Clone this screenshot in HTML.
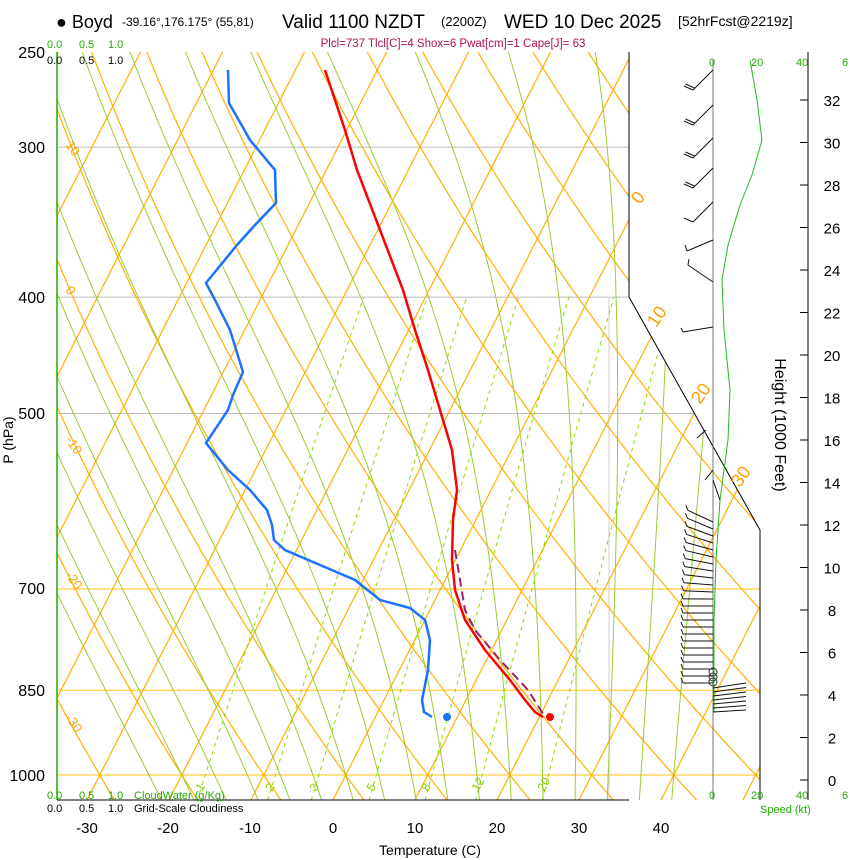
<!DOCTYPE html>
<html><head><meta charset="utf-8"><style>
body{margin:0;background:#fff;width:850px;height:860px;overflow:hidden}
svg{display:block;font-family:"Liberation Sans",sans-serif}
</style></head><body>
<svg id="s" width="850" height="860" xmlns="http://www.w3.org/2000/svg">
<defs><clipPath id="c"><polygon points="57,52 629,52 629,297 760,530 760,800 57,800"/></clipPath></defs>
<g id="grid" clip-path="url(#c)"></g>
<g id="fg"></g>
<text x="56" y="28" font-size="18">● Boyd</text>
<text x="122" y="26" font-size="12">-39.16°,176.175° (55,81)</text>
<text x="282" y="28" font-size="19">Valid 1100 NZDT</text>
<text x="441" y="26" font-size="13">(2200Z)</text>
<text x="504" y="28" font-size="19">WED 10 Dec 2025</text>
<text x="678" y="26" font-size="14">[52hrFcst@2219z]</text>
<text x="453" y="47" font-size="11.5" fill="#b0105a" text-anchor="middle">Plcl=737 Tlcl[C]=4 Shox=6 Pwat[cm]=1 Cape[J]= 63</text>
<g font-size="11" fill="#22aa00"><text x="47" y="48">0.0</text><text x="79" y="48">0.5</text><text x="108" y="48">1.0</text>
<text x="47" y="799">0.0</text><text x="79" y="799">0.5</text><text x="108" y="799">1.0</text><text x="134" y="799">CloudWater (g/Kg)</text>
<text x="709" y="66">0</text><text x="751" y="66">20</text><text x="796" y="66">40</text><text x="842" y="66">6</text>
<text x="709" y="799">0</text><text x="751" y="799">20</text><text x="796" y="799">40</text><text x="842" y="799">6</text>
<text x="760" y="813">Speed (kt)</text></g>
<g font-size="11"><text x="47" y="64">0.0</text><text x="79" y="64">0.5</text><text x="108" y="64">1.0</text>
<text x="47" y="812">0.0</text><text x="79" y="812">0.5</text><text x="108" y="812">1.0</text><text x="134" y="812">Grid-Scale Cloudiness</text></g>
<g font-size="16" text-anchor="end"><text x="45" y="58">250</text><text x="45" y="153">300</text><text x="45" y="303">400</text><text x="45" y="419">500</text><text x="45" y="594">700</text><text x="45" y="696">850</text><text x="45" y="781">1000</text></g>
<text transform="translate(13,440) rotate(-90)" font-size="14" text-anchor="middle">P (hPa)</text>
<text transform="translate(775,425) rotate(90)" font-size="16" text-anchor="middle">Height (1000 Feet)</text>
<g font-size="15" text-anchor="middle"><text x="87" y="833">-30</text><text x="168" y="833">-20</text><text x="250" y="833">-10</text><text x="333" y="833">0</text><text x="415" y="833">10</text><text x="497" y="833">20</text><text x="579" y="833">30</text><text x="661" y="833">40</text></g>
<text x="430" y="855" font-size="14" text-anchor="middle">Temperature (C)</text>
</svg>
<script>
const NS="http://www.w3.org/2000/svg";
const grid=document.getElementById('grid'),fg=document.getElementById('fg');
function el(p,tag,a,txt){const e=document.createElementNS(NS,tag);for(const k in a)e.setAttribute(k,a[k]);if(txt!==undefined)e.textContent=txt;p.appendChild(e);return e;}
const Y=p=>775-521.5*Math.log(1000/p);
const X=(T,p)=>333+8.2*T+(800-Y(p))*0.51;
function pl(pts,a,par){el(par||grid,'polyline',Object.assign({points:pts.map(q=>q[0].toFixed(1)+','+q[1].toFixed(1)).join(' '),fill:'none'},a));}
[300,400,500].forEach(p=>el(grid,'line',{x1:57,x2:760,y1:Y(p),y2:Y(p),stroke:'#bbb','stroke-width':1}));
[700,850,1000].forEach(p=>el(grid,'line',{x1:57,x2:760,y1:Y(p),y2:Y(p),stroke:'#ffcc44','stroke-width':1.2}));
el(grid,'line',{x1:609,x2:609,y1:297,y2:800,stroke:'#ccc','stroke-width':1});
const OR='#ffb000';
for(let T=-120;T<=60;T+=10){pl([[X(T,1050),Y(1050)],[X(T,250),Y(250)]],{stroke:OR,'stroke-width':1.2});}
for(let th=-40;th<=200;th+=10){const pts=[];for(let p=1050;p>=240;p-=10){const T=(th+273.15)*Math.pow(p/1000,0.286)-273.15;pts.push([X(T,p),Y(p)]);}pl(pts,{stroke:OR,'stroke-width':1.2});}
function es(T){return 6.112*Math.exp(17.67*T/(T+243.5));}
for(let tw=-24;tw<=40;tw+=4){let T,p;const seg=[];
 for(let dir of [1,-1]){T=tw+273.15;p=1000;const arr=[];
  while(dir==1?p>=240:p<=1050){const rs=0.622*es(T-273.15)/(p-es(T-273.15));const L=2.5e6;
   const dTdp=(287*T+L*rs)/(p*(1004+L*L*rs*0.622/(287*T*T)));arr.push([X(T-273.15,p),Y(p)]);
   const dp=dir==1?-5:5;T+=dTdp*dp;p+=dp;}
  if(dir==1)seg.push(...arr.reverse());else seg.push(...arr.slice(1));}
 pl(seg,{stroke:'#99cc33','stroke-width':1});}
[1,2,3,5,8,12,20].forEach(w=>{const pts=[];for(let p=1050;p>=400;p-=10){const e=w*p/(622+w);const l=Math.log(e/6.112);const T=243.5*l/(17.67-l);pts.push([X(T,p),Y(p)]);}
 pl(pts,{stroke:'#88dd00','stroke-width':1,'stroke-dasharray':'4,4'});});
el(fg,'polyline',{points:'629,52 629,297 760,530 760,800',fill:'none',stroke:'#000','stroke-width':1});
el(fg,'line',{x1:57,x2:57,y1:52,y2:800,stroke:'#22aa00','stroke-width':1.5});
el(fg,'line',{x1:57,x2:629,y1:800,y2:800,stroke:'#000','stroke-width':1});
const lo=[["10",65,145],["0",65,290],["-10",65,440],["-20",65,575],["-30",65,718]];
lo.forEach(a=>el(fg,'text',{x:a[1],y:a[2],'font-size':13,fill:'#ffa000',transform:`rotate(55 ${a[1]} ${a[2]})`},a[0]));
[["0",640,205],["10",656,328],["20",700,405],["30",740,488]].forEach(a=>el(fg,'text',{x:a[1],y:a[2],'font-size':18,fill:'#ffa000',transform:`rotate(-55 ${a[1]} ${a[2]})`},a[0]));
[["1",202,792],["2",272,792],["3",316,792],["5",373,792],["8",428,792],["12",478,792],["20",544,792]].forEach(a=>el(fg,'text',{x:a[1],y:a[2],'font-size':12,fill:'#88cc00',transform:`rotate(-60 ${a[1]} ${a[2]})`},a[0]));
el(fg,'line',{x1:808,x2:808,y1:52,y2:800,stroke:'#000'});
el(fg,'line',{x1:713,x2:713,y1:60,y2:800,stroke:'#555','stroke-width':0.8});
for(let h=0;h<=32;h+=2){const y=780-h*21.25;el(fg,'line',{x1:800,x2:808,y1:y,y2:y,stroke:'#000'});el(fg,'text',{x:832,y:y+6,'font-size':15,'text-anchor':'middle'},String(h));}
const red=[[325,70],[345,130],[357,170],[380,230],[403,290],[415,330],[428,370],[440,410],[452,450],[457,490],[453,520],[452,560],[455,590],[465,620],[485,650],[510,680],[525,700],[535,712],[543,717]];
const blue=[[228,70],[229,103],[250,140],[275,170],[276,203],[255,225],[237,245],[206,283],[215,300],[230,330],[243,372],[233,395],[228,410],[206,443],[228,470],[250,490],[267,510],[272,525],[274,540],[285,550],[320,565],[355,580],[380,600],[410,608],[425,620],[430,640],[428,670],[422,700],[424,712],[432,717]];
const par=[[455,550],[460,580],[465,610],[475,630],[500,660],[528,690],[545,717]];
pl(par,{stroke:'#992266','stroke-width':2,'stroke-dasharray':'9,5'},fg);
pl(red,{stroke:'#ff0000','stroke-width':2.5},fg);
pl(blue,{stroke:'#1a73ff','stroke-width':2.5},fg);
el(fg,'circle',{cx:550,cy:717,r:4,fill:'#ff0000'});el(fg,'circle',{cx:447,cy:717,r:4,fill:'#1a73ff'});
pl([[750,60],[757,100],[762,140],[752,175],[740,205],[728,245],[722,280],[724,330],[730,390],[728,440],[720,500],[716,560],[714,620],[714,680],[714,712]],{stroke:'#22bb22','stroke-width':1},fg);
function L(x1,y1,x2,y2){el(fg,'line',{x1,y1,x2,y2,stroke:'#111','stroke-width':1});}
// upper barbs
[[70,2],[105,2],[138,2],[168,2],[202,1]].forEach(([y,n])=>{const ex=693,ey=y+20;L(713,y,ex,ey);
 for(let i=0;i<n;i++){L(ex+i*1.5,ey-i*2,ex-9+i*1.5,ey-4-i*2);}});
L(713,240,687,251);L(687,251,685,245);
L(713,282,688,265);L(688,265,689,259);
L(713,327,683,332);L(683,332,681,328);
L(706,430,697,438);L(713,470,705,480);L(713,480,720,500);
// lower barbs
for(let y=522;y<=683;y+=7){const k=Math.max(0,(600-y)/80);const ex=683+k*5,ey=y-12*k;L(713,y,ex,ey);L(ex,ey,ex-2,ey-5);}
for(let y=688;y<=712;y+=4){L(713,y,746,y-5+(y-688)/8);}
[672,677,682].forEach(y=>el(fg,'circle',{cx:713,cy:y,r:4,fill:'none',stroke:'#333'}));
</script>
</body></html>
